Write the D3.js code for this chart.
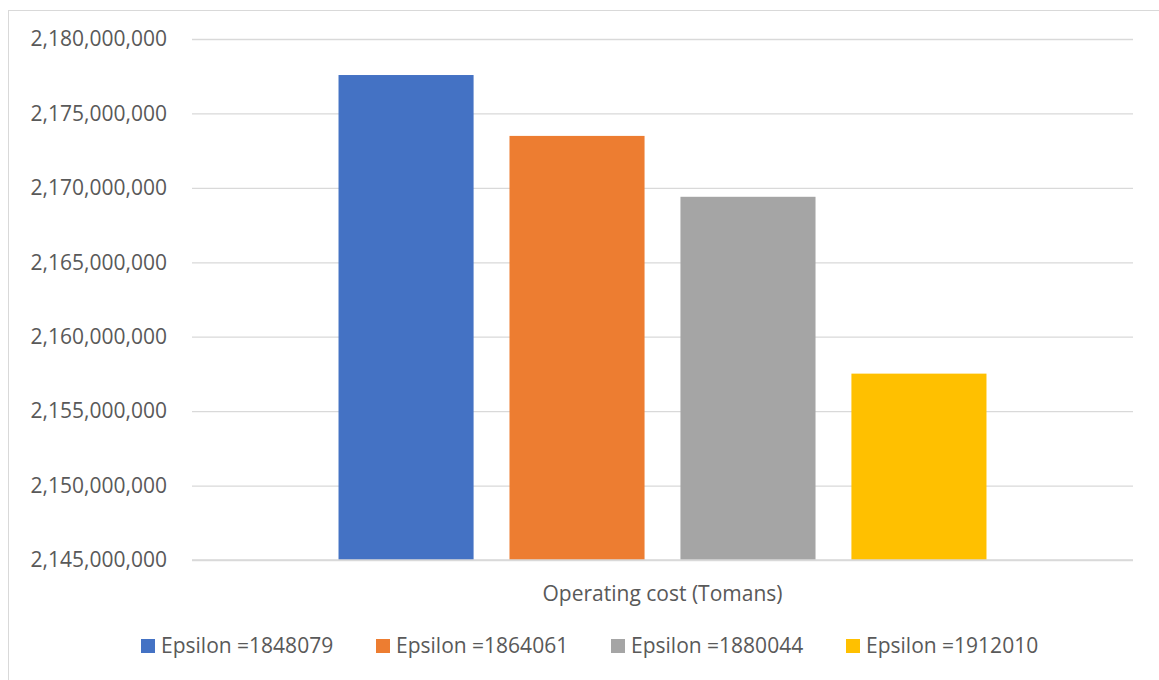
<!DOCTYPE html>
<html lang="en">
<head>
  <meta charset="UTF-8">
  <title>Operating cost</title>
  <script src="https://d3js.org/d3.v7.min.js"></script>
  <style>
    body { margin: 0; background: #fff; }
    text { font-family: "Open Sans", "Noto Sans", sans-serif; fill: #595959; }
  </style>
</head>
<body>
<div id="chart"></div>
<script>
// data
const categories = ["Operating cost (Tomans)"];
const series = ["Epsilon =1848079", "Epsilon =1864061", "Epsilon =1880044", "Epsilon =1912010"];
const values = [2177580000, 2173490000, 2169400000, 2157520000];
const colors = ["#4472C4", "#ED7D31", "#A5A5A5", "#FFC000"];
const yTicks = [2145000000, 2150000000, 2155000000, 2160000000, 2165000000, 2170000000, 2175000000, 2180000000];

const W = 1159, H = 680;
const margin = { top: 39, right: 26, bottom: 120, left: 192 };
const width = W - margin.left - margin.right;
const height = H - margin.top - margin.bottom;

const svg = d3.select("#chart").append("svg")
  .attr("width", W)
  .attr("height", H);

// chart frame
svg.append("rect")
  .attr("x", 8.5).attr("y", 10.5)
  .attr("width", W).attr("height", H)
  .attr("fill", "none")
  .attr("stroke", "#d9d9d9");

const g = svg.append("g")
  .attr("transform", `translate(${margin.left},${margin.top})`);

const y = d3.scaleLinear()
  .domain([2145000000, 2180000000])
  .range([height, 0]);

const x0 = d3.scaleBand()
  .domain(categories)
  .range([0, width])
  .paddingOuter(0.188);

const x1 = d3.scaleBand()
  .domain(series)
  .range([0, x0.bandwidth()])
  .paddingInner(0.21)
  .paddingOuter(0.105);

// gridlines + y labels
const yAxis = g.append("g")
  .call(d3.axisLeft(y).tickValues(yTicks).tickFormat(d3.format(",")).tickSize(-width).tickPadding(25));
yAxis.select(".domain").remove();
yAxis.selectAll(".tick line").attr("stroke", "#d9d9d9").attr("stroke-width", 1.3);
yAxis.selectAll(".tick text").style("font-size", "21px").attr("fill", "#595959");

// bars
g.selectAll(".bar")
  .data(series.map((s, i) => ({ cat: categories[0], s, v: values[i], c: colors[i] })))
  .enter().append("rect")
  .attr("class", "bar")
  .attr("x", d => x0(d.cat) + x1(d.s))
  .attr("y", d => y(d.v))
  .attr("width", x1.bandwidth())
  .attr("height", d => y(2145000000) - y(d.v))
  .attr("fill", d => d.c);

// x axis baseline + category label
g.append("line")
  .attr("x1", 0).attr("x2", width)
  .attr("y1", height).attr("y2", height)
  .attr("stroke", "#d9d9d9").attr("stroke-width", 1.3);

g.selectAll(".cat")
  .data(categories)
  .enter().append("text")
  .attr("class", "cat")
  .attr("x", d => x0(d) + x0.bandwidth() / 2)
  .attr("y", height + 41)
  .attr("text-anchor", "middle")
  .style("font-size", "21px")
  .text(d => d);

// legend
const legend = svg.append("g").attr("transform", "translate(141, 639)");
const item = legend.selectAll(".item")
  .data(series)
  .enter().append("g")
  .attr("class", "item")
  .attr("transform", (d, i) => `translate(${i * 235},0)`);

item.append("rect")
  .attr("width", 14).attr("height", 14)
  .attr("fill", (d, i) => colors[i]);

item.append("text")
  .attr("x", 20).attr("y", 14)
  .style("font-size", "21px")
  .text(d => d);
</script>
</body>
</html>
